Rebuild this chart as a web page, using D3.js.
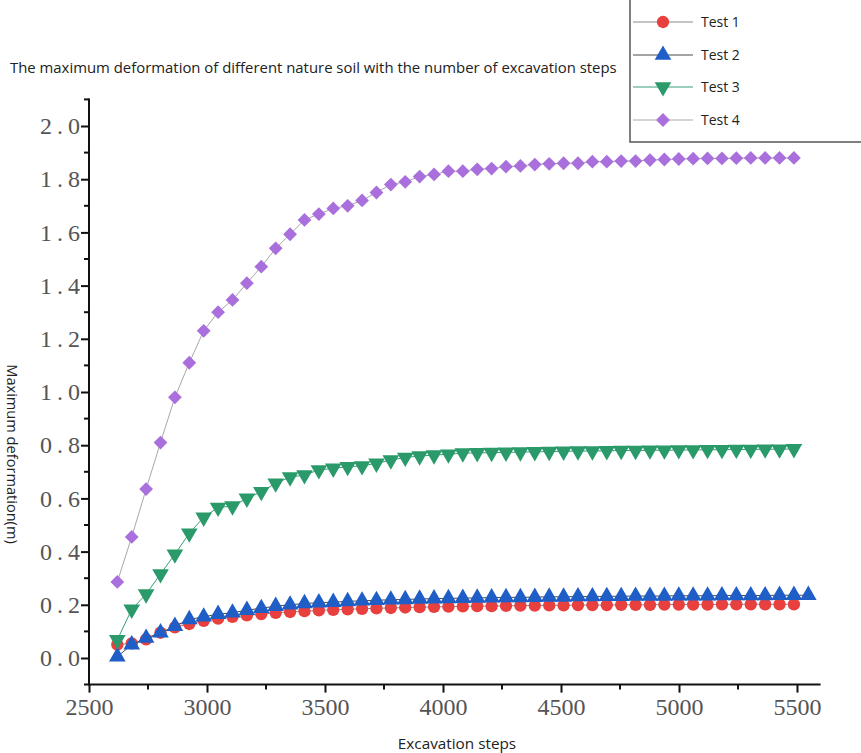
<!DOCTYPE html>
<html>
<head>
<meta charset="utf-8">
<script src="https://cdn.jsdelivr.net/npm/d3@7"></script>
<style>
  body { margin: 0; background: #fff; }
  svg { display: block; }
</style>
</head>
<body>
<svg id="chart" width="861" height="753"></svg>
<script>
// ---------------- DATA ----------------
const steps = [2620,2681,2742,2803,2864,2925,2986,3047,3108,3169,3230,3291,3352,3413,3474,3535,3596,3657,3718,3779,3840,3901,3962,4023,4084,4145,4206,4267,4328,4389,4450,4511,4572,4633,4694,4755,4816,4877,4938,4999,5060,5121,5182,5243,5304,5365,5426,5487,5548];

const test1 = [0.050,0.055,0.070,0.095,0.115,0.128,0.140,0.148,0.155,0.160,0.165,0.170,0.173,0.176,0.179,0.181,0.183,0.185,0.187,0.188,0.190,0.191,0.192,0.193,0.194,0.195,0.195,0.196,0.197,0.197,0.198,0.198,0.199,0.199,0.199,0.200,0.200,0.200,0.201,0.201,0.201,0.201,0.202,0.202,0.202,0.202,0.202,0.202];

const test2 = [0.005,0.050,0.075,0.095,0.120,0.145,0.155,0.165,0.170,0.180,0.187,0.195,0.200,0.205,0.208,0.210,0.213,0.215,0.217,0.219,0.220,0.222,0.223,0.224,0.225,0.226,0.227,0.228,0.228,0.229,0.230,0.230,0.231,0.231,0.232,0.232,0.233,0.233,0.233,0.234,0.234,0.234,0.235,0.235,0.235,0.235,0.236,0.236,0.236];

const test3 = [0.068,0.183,0.240,0.316,0.390,0.469,0.529,0.566,0.571,0.600,0.625,0.657,0.680,0.688,0.707,0.713,0.719,0.722,0.732,0.744,0.754,0.759,0.763,0.766,0.770,0.771,0.772,0.773,0.774,0.775,0.776,0.777,0.778,0.778,0.779,0.780,0.780,0.781,0.781,0.782,0.782,0.783,0.783,0.784,0.784,0.785,0.785,0.786];

const test4 = [0.286,0.455,0.635,0.810,0.980,1.110,1.230,1.300,1.346,1.409,1.471,1.540,1.593,1.647,1.669,1.690,1.700,1.720,1.750,1.780,1.790,1.810,1.818,1.830,1.830,1.837,1.840,1.847,1.850,1.855,1.858,1.860,1.860,1.866,1.866,1.868,1.868,1.872,1.874,1.876,1.877,1.878,1.878,1.879,1.880,1.880,1.880,1.880];

const seriesNames = ["Test 1","Test 2","Test 3","Test 4"];
const xTicks = [2500,3000,3500,4000,4500,5000,5500];
const xMinorTicks = [2750,3250,3750,4250,4750,5250];
const yTicks = [0.0,0.2,0.4,0.6,0.8,1.0,1.2,1.4,1.6,1.8,2.0];
const yMinorTicks = [0.1,0.3,0.5,0.7,0.9,1.1,1.3,1.5,1.7,1.9,2.1];

const titleText = "The maximum deformation of different nature soil with the number of excavation steps";
const xLabel = "Excavation steps";
const yLabel = "Maximum deformation(m)";

// ---------------- STYLE ----------------
const styles = [
  {fill:"#e8403e", line:"#8a8a8a", sym: d3.symbolCircle, size: 120, rot: 0},
  {fill:"#1f5ec6", line:"#4a4a4a", sym: d3.symbolTriangle, size: 120, rot: 0},
  {fill:"#2a9a6a", line:"#3a9c7c", sym: d3.symbolTriangle, size: 120, rot: 180},
  {fill:"#a96fdc", line:"#a8a8a8", sym: d3.symbolSquare, size: 95, rot: 45}
];
const seriesData = [test1, test2, test3, test4];

const svg = d3.select("#chart");
const x = d3.scaleLinear().domain([2500, 5600]).range([89, 820.6]);
const y = d3.scaleLinear().domain([-0.1, 2.1]).range([684.6, 99.4]);

// Title
svg.append("text").attr("x", 10).attr("y", 73)
  .attr("font-family", "Open Sans, sans-serif").attr("font-size", 14.9)
  .attr("fill", "#222").text(titleText);

// Series
seriesData.forEach((vals, k) => {
  const st = styles[k];
  const pts = vals.map((v, i) => [steps[i], v]);
  svg.append("path").datum(pts)
    .attr("fill", "none").attr("stroke", st.line).attr("stroke-width", 1)
    .attr("d", d3.line().x(d => x(d[0])).y(d => y(d[1])));
  svg.append("g").selectAll("path").data(pts).join("path")
    .attr("d", d3.symbol().type(st.sym).size(st.size))
    .attr("transform", d => `translate(${x(d[0])},${y(d[1])}) rotate(${st.rot})`)
    .attr("fill", st.fill);
});

// Axes
const axisColor = "#111";
const gx = svg.append("g").attr("transform", `translate(0,${y(-0.1)})`);
gx.call(d3.axisBottom(x).tickValues(xTicks).tickSize(8).tickFormat(d3.format("d")));
gx.select(".domain").remove();
gx.append("line").attr("x1", 84).attr("x2", x(5600)).attr("y1", 0).attr("y2", 0)
  .attr("stroke", axisColor).attr("stroke-width", 2);
gx.selectAll(".tick line").attr("stroke", axisColor).attr("stroke-width", 2);
gx.selectAll(".tick text").attr("font-family", "Liberation Serif, serif")
  .attr("font-size", 24).attr("fill", "#555").attr("dy", "0.9em").attr("y", 9);
gx.selectAll(".minor").data(xMinorTicks).join("line").attr("class", "minor")
  .attr("x1", d => x(d)).attr("x2", d => x(d)).attr("y1", 0).attr("y2", 5)
  .attr("stroke", axisColor).attr("stroke-width", 2);

const gy = svg.append("g").attr("transform", `translate(${x(2500)},0)`);
gy.call(d3.axisLeft(y).tickValues(yTicks).tickSize(8).tickFormat(d3.format(".1f")));
gy.select(".domain").remove();
gy.append("line").attr("x1", 0).attr("x2", 0).attr("y1", y(2.1) - 1).attr("y2", y(-0.1) + 1)
  .attr("stroke", axisColor).attr("stroke-width", 2);
gy.selectAll(".tick line").attr("stroke", axisColor).attr("stroke-width", 2);
gy.selectAll(".tick text").attr("font-family", "Liberation Serif, serif")
  .attr("font-size", 24).attr("fill", "#555").attr("letter-spacing", "5px").attr("x", -4);
gy.selectAll(".minor").data(yMinorTicks).join("line").attr("class", "minor")
  .attr("x1", -5).attr("x2", 0).attr("y1", d => y(d)).attr("y2", d => y(d))
  .attr("stroke", axisColor).attr("stroke-width", 2);

// Axis labels
svg.append("text").attr("x", 457).attr("y", 749).attr("text-anchor", "middle")
  .attr("font-family", "Open Sans, sans-serif").attr("font-size", 15.3)
  .attr("fill", "#222").text(xLabel);
svg.append("text").attr("transform", "translate(7,454) rotate(90)")
  .attr("text-anchor", "middle")
  .attr("font-family", "Open Sans, sans-serif").attr("font-size", 14.6)
  .attr("fill", "#222").text(yLabel);

// Legend
const lg = svg.append("g");
lg.append("rect").attr("x", 630).attr("y", -5).attr("width", 240).attr("height", 147)
  .attr("fill", "#fff").attr("stroke", "#555").attr("stroke-width", 1.5);
const legY = [22, 55, 87, 120];
seriesNames.forEach((name, k) => {
  const st = styles[k];
  lg.append("line").attr("x1", 633).attr("x2", 693).attr("y1", legY[k]).attr("y2", legY[k])
    .attr("stroke", st.line).attr("stroke-width", 1);
  lg.append("path").attr("d", d3.symbol().type(st.sym).size(st.size)())
    .attr("transform", `translate(663,${legY[k]}) rotate(${st.rot})`).attr("fill", st.fill);
  lg.append("text").attr("x", 701).attr("y", legY[k] + 5)
    .attr("font-family", "Open Sans, sans-serif").attr("font-size", 14)
    .attr("fill", "#222").text(name);
});
</script>
</body>
</html>
